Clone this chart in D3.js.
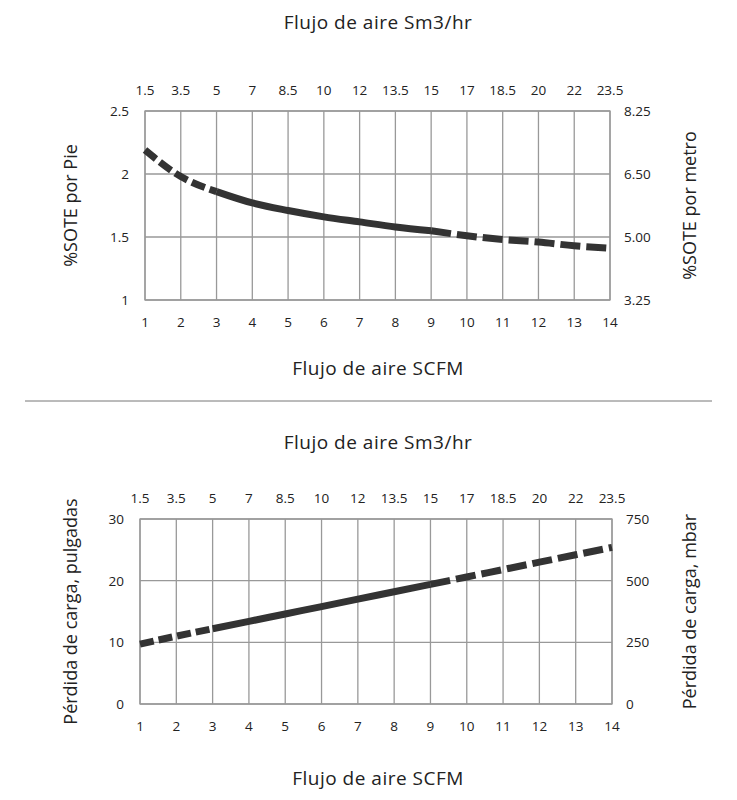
<!DOCTYPE html><html><head><meta charset="utf-8"><script src="https://cdn.jsdelivr.net/npm/d3@7"></script>
<style>body{margin:0;background:#fff}text{font-family:"Open Sans",sans-serif;fill:#222}</style></head><body>
<svg id="c" width="737" height="800"></svg>
<script>
const scfm=[1,2,3,4,5,6,7,8,9,10,11,12,13,14];
const sm3Labels=["1.5","3.5","5","7","8.5","10","12","13.5","15","17","18.5","20","22","23.5"];
const sote=[2.19,1.98,1.86,1.77,1.71,1.66,1.62,1.58,1.55,1.51,1.48,1.46,1.43,1.41];
const soteTicks=[1,1.5,2,2.5];
const soteMetroLabels=["3.25","5.00","6.50","8.25"];
const perdida=[9.7,11,12.2,13.4,14.6,15.8,17,18.2,19.4,20.6,21.8,23,24.2,25.4];
const perdidaTicks=[0,10,20,30];
const mbarLabels=["0","250","500","750"];
const svg=d3.select("#c");
function panel(o){
  const x=d3.scaleLinear().domain([1,14]).range([o.x0,o.x1]);
  const y=d3.scaleLinear().domain(o.yd).range([o.y1,o.y0]);
  const g=svg.append("g");
  scfm.forEach(v=>g.append("line").attr("x1",x(v)).attr("x2",x(v)).attr("y1",o.y0).attr("y2",o.y1).attr("stroke","#999").attr("stroke-width",1.3));
  o.ticks.forEach(v=>g.append("line").attr("x1",o.x0).attr("x2",o.x1).attr("y1",y(v)).attr("y2",y(v)).attr("stroke","#999").attr("stroke-width",1.3));
  g.append("rect").attr("x",o.x0).attr("y",o.y0).attr("width",o.x1-o.x0).attr("height",o.y1-o.y0).attr("fill","none").attr("stroke","#999").attr("stroke-width",1.3);
  scfm.forEach((v,i)=>{
    g.append("text").attr("x",x(v)).attr("y",o.y1+27).attr("text-anchor","middle").attr("font-size",13.5).text(v);
    g.append("text").attr("x",x(v)).attr("y",o.y0-16).attr("text-anchor","middle").attr("font-size",13.5).text(sm3Labels[i]);
  });
  o.ticks.forEach((v,i)=>{
    g.append("text").attr("x",o.x0-16).attr("y",y(v)+5).attr("text-anchor","end").attr("font-size",13.5).text(v);
    g.append("text").attr("x",o.x1+14).attr("y",y(v)+5).attr("text-anchor","start").attr("font-size",13.5).text(o.rl[i]);
  });
  const line=d3.line().x((d,i)=>x(scfm[d])).y(d=>y(o.vals[d])).curve(d3.curveMonotoneX);
  const segs=[[[0,1,2],"14,5"],[[2,3,4,5,6,7,8],null],[[8,9,10,11,12,13],"20,6"]];
  segs.forEach(([idx,da])=>{const p=g.append("path").attr("d",line(idx)).attr("fill","none").attr("stroke","#333").attr("stroke-width",7);if(da)p.attr("stroke-dasharray",da);});
  g.append("text").attr("x",378).attr("y",o.ty).attr("text-anchor","middle").attr("font-size",19).attr("letter-spacing",0.5).text("Flujo de aire Sm3/hr");
  g.append("text").attr("x",378).attr("y",o.by).attr("text-anchor","middle").attr("font-size",19).attr("letter-spacing",0.5).text("Flujo de aire SCFM");
  const cy=(o.y0+o.y1)/2;
  g.append("text").attr("transform",`translate(77,${cy}) rotate(-90)`).attr("text-anchor","middle").attr("font-size",18).text(o.ll);
  g.append("text").attr("transform",`translate(696,${cy}) rotate(-90)`).attr("text-anchor","middle").attr("font-size",18).text(o.rt);
}
panel({x0:145,x1:610,y0:111,y1:300,yd:[1,2.5],ticks:soteTicks,rl:soteMetroLabels,vals:sote,ll:"%SOTE por Pie",rt:"%SOTE por metro",ty:29,by:375});
panel({x0:140,x1:612,y0:519,y1:704,yd:[0,30],ticks:perdidaTicks,rl:mbarLabels,vals:perdida,ll:"Pérdida de carga, pulgadas",rt:"Pérdida de carga, mbar",ty:449,by:785});
svg.append("line").attr("x1",25).attr("x2",712).attr("y1",401).attr("y2",401).attr("stroke","#777").attr("stroke-width",1);
</script></body></html>
